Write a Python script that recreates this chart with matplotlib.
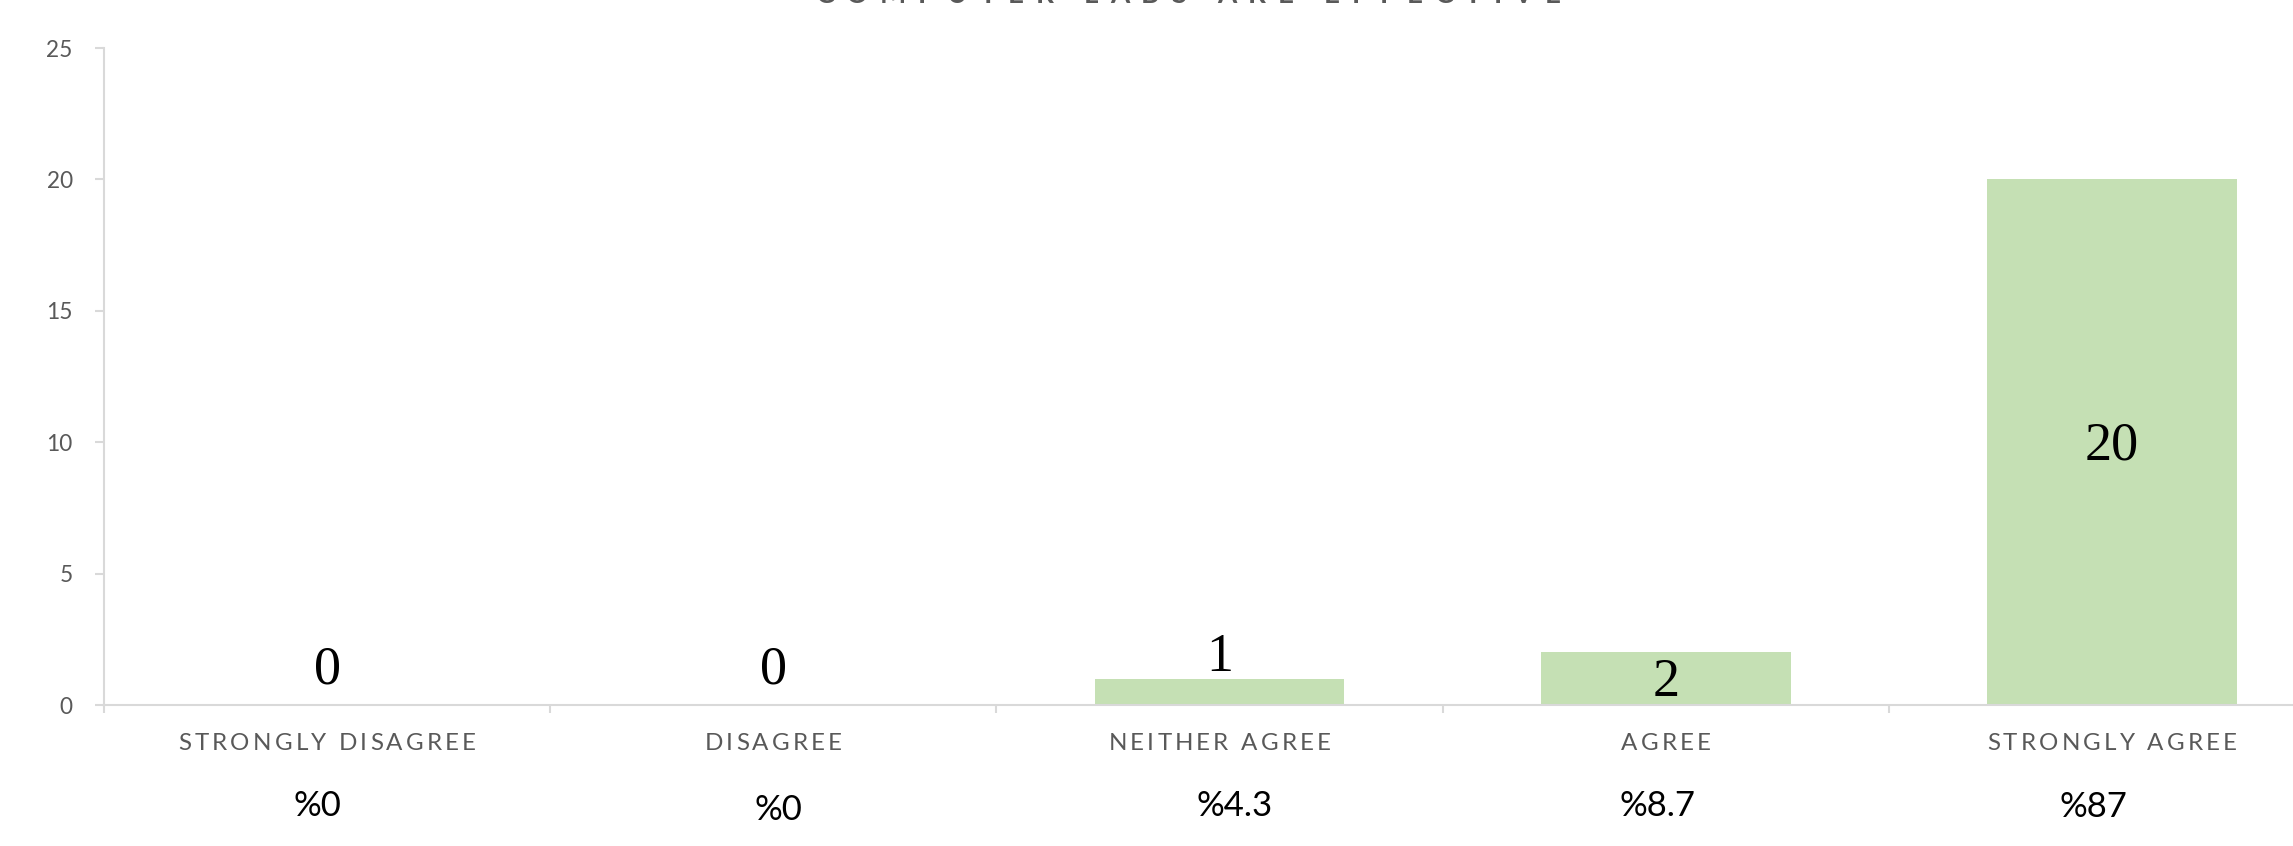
import numpy as np
import matplotlib.pyplot as plt
from matplotlib.font_manager import FontProperties, findfont, get_font

# data
categories = ['STRONGLY DISAGREE', 'DISAGREE', 'NEITHER AGREE', 'AGREE', 'STRONGLY AGREE']
counts = [0, 0, 1, 2, 20]
percent_labels = ['%0', '%0', '%4.3', '%8.7', '%87']
yticks = [0, 5, 10, 15, 20, 25]
title = 'COMPUTER LABS ARE EFFECTIVE'

# colours
bar_color = '#c5e0b4'
axis_color = '#d9d9d9'
text_gray = '#595959'

W, H = 2293, 846
fig = plt.figure(figsize=(W / 100, H / 100), dpi=100)
# axes run past the right edge, like the cropped original
ax = fig.add_axes([104 / W, 1 - 705 / H, 2231 / W, (705 - 48) / H])

x = np.arange(len(categories))
ax.bar(x, counts, width=0.56, color=bar_color, zorder=2)

ax.set_xlim(-0.5, len(categories) - 0.5)
ax.set_ylim(0, 25)
for side in ['top', 'right']:
    ax.spines[side].set_visible(False)
for side in ['left', 'bottom']:
    ax.spines[side].set_color(axis_color)
    ax.spines[side].set_linewidth(1.5)

ax.set_yticks(yticks)
ax.tick_params(axis='y', length=6.5, width=1.5, color=axis_color, pad=16,
               labelsize=16.3, labelcolor=text_gray)
for lab in ax.get_yticklabels():
    lab.set_family('Lato')
ax.set_xticks(np.arange(-0.5, len(categories), 1))
ax.tick_params(axis='x', length=6, width=1.5, color=axis_color, labelbottom=False)


def advances(s, prop):
    # advance widths in points (ft2font scales x by the hinting factor)
    hf = plt.rcParams['text.hinting_factor']
    font = get_font(findfont(prop))
    font.set_size(prop.get_size_in_points(), 72)
    return [font.load_char(ord(c)).horiAdvance / 64 / hf for c in s]


def spaced_text(s, xy, xycoords, dy, prop, tracking, color):
    # draw letter by letter so we get the wide letter spacing of the original
    adv = advances(s, prop)
    total = sum(adv) + tracking * (len(s) - 1)
    pos = -total / 2
    for c, a in zip(s, adv):
        if c != ' ':
            ax.annotate(c, xy, xycoords=xycoords, xytext=(pos + a / 2, dy),
                        textcoords='offset points', ha='center', va='baseline',
                        fontproperties=prop, color=color, annotation_clip=False)
        pos += a + tracking


cat_prop = FontProperties(family='Lato', size=17.4)
for i, cat in enumerate(categories):
    spaced_text(cat, (x[i], 0), ('data', 'axes fraction'), -32.4, cat_prop, 2.3, text_gray)

# percentage line under the category names
pct_dx = [-7, 4, 11, -6, -13]
pct_dy = [-79.6, -83, -79.6, -79.6, -80.5]
for i, p in enumerate(percent_labels):
    ax.annotate(p, (x[i], 0), xycoords=('data', 'axes fraction'),
                xytext=(pct_dx[i], pct_dy[i]), textcoords='offset points',
                ha='center', va='baseline', fontsize=25, family='Lato',
                color='black', annotation_clip=False)

# value labels in a serif face
for i, v in enumerate(counts):
    if v >= 2:
        y0, dy = v / 2, -12.5
    elif v == 0:
        y0, dy = 0, 15.8
    else:
        y0, dy = v, 5.8
    ax.annotate(str(v), (x[i], y0), xytext=(0, dy), textcoords='offset points',
                ha='center', va='baseline', fontsize=39, family='Liberation Serif',
                color='black', annotation_clip=False)

# title sits mostly above the cropped top edge
title_prop = FontProperties(family='Lato', weight='bold', size=20)
spaced_text(title, (1188 / W, 1 - 3 / H), 'figure fraction', 0, title_prop, 8.5, text_gray)

fig.savefig('out.png', dpi=100)
